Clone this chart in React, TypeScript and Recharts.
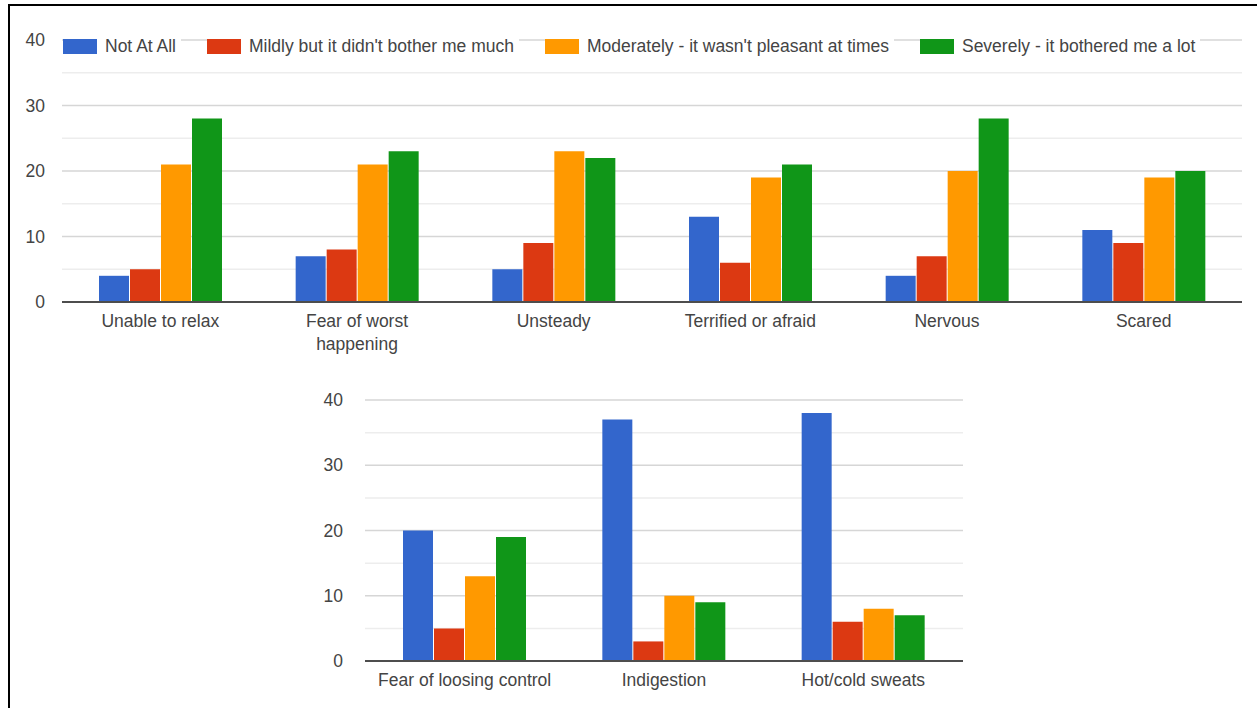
import React from 'react';
import { BarChart, Bar, XAxis, YAxis, CartesianGrid, Legend, Text } from 'recharts';

const topCategories = ['Unable to relax', 'Fear of worst happening', 'Unsteady', 'Terrified or afraid', 'Nervous', 'Scared'];
const topNotAtAll = [4, 7, 5, 13, 4, 11];
const topMildly = [5, 8, 9, 6, 7, 9];
const topModerately = [21, 21, 23, 19, 20, 19];
const topSeverely = [28, 23, 22, 21, 28, 20];

const bottomCategories = ['Fear of loosing control', 'Indigestion', 'Hot/cold sweats'];
const bottomNotAtAll = [20, 37, 38];
const bottomMildly = [5, 3, 6];
const bottomModerately = [13, 10, 8];
const bottomSeverely = [19, 9, 7];

const seriesNames = [
    'Not At All',
    "Mildly but it didn't bother me much",
    "Moderately - it wasn't pleasant at times",
    'Severely - it bothered me a lot',
];
const majorTicks = [0, 10, 20, 30, 40];
const minorTicks = [5, 15, 25, 35];

const COLORS = ['#3366cc', '#dc3912', '#ff9900', '#109618'];
const KEYS = ['notAtAll', 'mildly', 'moderately', 'severely'];
const FONT = 'Arial, "Liberation Sans", sans-serif';
const FONT_SIZE = 17.5;
const TEXT_COLOR = '#444';

const buildRows = (cats: string[], a: number[], b: number[], c: number[], d: number[]) =>
    cats.map((name, i) => ({ name, notAtAll: a[i], mildly: b[i], moderately: c[i], severely: d[i] }));

const topData = buildRows(topCategories, topNotAtAll, topMildly, topModerately, topSeverely);
const bottomData = buildRows(bottomCategories, bottomNotAtAll, bottomMildly, bottomModerately, bottomSeverely);

const CategoryTick = ({ x, y, payload, wrapWidth }: any) => (
    <Text
        x={x}
        y={y + 13}
        width={wrapWidth}
        textAnchor="middle"
        verticalAnchor="start"
        lineHeight={23}
        fontSize={FONT_SIZE}
        fontFamily={FONT}
        fill={TEXT_COLOR}
    >
        {payload.value}
    </Text>
);

const LegendContent = () => (
    <div style={{ display: 'flex', alignItems: 'center', fontFamily: FONT, fontSize: FONT_SIZE, color: TEXT_COLOR }}>
        {seriesNames.map((name, i) => (
            <div key={name} style={{ display: 'flex', alignItems: 'center', marginRight: i < seriesNames.length - 1 ? 26 : 0 }}>
                <span style={{ width: 34, height: 15, background: COLORS[i], display: 'inline-block' }} />
                <span style={{ background: '#fff', padding: '0 5px 0 8px', lineHeight: '20px', whiteSpace: 'nowrap' }}>{name}</span>
            </div>
        ))}
    </div>
);

const renderBars = () =>
    KEYS.map((key, i) => (
        <Bar key={key} dataKey={key} name={seriesNames[i]} fill={COLORS[i]} barSize={30} isAnimationActive={false} />
    ));

// minor lines first, major lines on top of them, both under the bars
const renderGrid = () => [
    <CartesianGrid key="minor" vertical={false} horizontalValues={minorTicks} stroke="#ededed" strokeWidth={1.5} />,
    <CartesianGrid key="major" vertical={false} stroke="#d6d6d6" strokeWidth={1.5} />,
];

const App: React.FC = () => {
    return (
        <div style={{ position: 'absolute', left: 0, top: 0, width: 1257, height: 708, background: '#fff', overflow: 'hidden' }}>
            <div
                style={{
                    position: 'absolute',
                    left: 8,
                    top: 4,
                    right: 0,
                    bottom: 0,
                    borderLeft: '2px solid #000',
                    borderTop: '2px solid #000',
                }}
            />
            <div style={{ position: 'absolute', left: 0, top: 0 }}>
                <BarChart
                    width={1257}
                    height={360}
                    data={topData}
                    margin={{ top: 40, right: 15, left: 0, bottom: 0 }}
                    barGap={1}
                >
                    {renderGrid()}
                    <XAxis
                        dataKey="name"
                        interval={0}
                        height={58}
                        tickLine={false}
                        tickSize={0}
                        tickMargin={0}
                        axisLine={{ stroke: '#4d4d4d', strokeWidth: 2 }}
                        tick={(props: any) => <CategoryTick {...props} wrapWidth={150} />}
                    />
                    <YAxis
                        width={62}
                        domain={[0, 40]}
                        ticks={majorTicks}
                        axisLine={false}
                        tickLine={false}
                        tickSize={0}
                        tickMargin={17}
                        tick={{ fontSize: FONT_SIZE, fontFamily: FONT, fill: TEXT_COLOR }}
                    />
                    <Legend
                        layout="horizontal"
                        verticalAlign="middle"
                        align="center"
                        content={<LegendContent />}
                        wrapperStyle={{ top: 36, left: 63, width: 'auto' }}
                    />
                    {renderBars()}
                </BarChart>
            </div>
            <div style={{ position: 'absolute', left: 0, top: 361 }}>
                <BarChart
                    width={1257}
                    height={347}
                    data={bottomData}
                    margin={{ top: 39, right: 294, left: 300, bottom: 0 }}
                    barGap={1}
                >
                    {renderGrid()}
                    <XAxis
                        dataKey="name"
                        interval={0}
                        height={47}
                        tickLine={false}
                        tickSize={0}
                        tickMargin={0}
                        axisLine={{ stroke: '#4d4d4d', strokeWidth: 2 }}
                        tick={(props: any) => <CategoryTick {...props} wrapWidth={199} />}
                    />
                    <YAxis
                        width={65}
                        domain={[0, 40]}
                        ticks={majorTicks}
                        axisLine={false}
                        tickLine={false}
                        tickSize={0}
                        tickMargin={22}
                        tick={{ fontSize: FONT_SIZE, fontFamily: FONT, fill: TEXT_COLOR }}
                    />
                    {renderBars()}
                </BarChart>
            </div>
        </div>
    );
};

export default App;
